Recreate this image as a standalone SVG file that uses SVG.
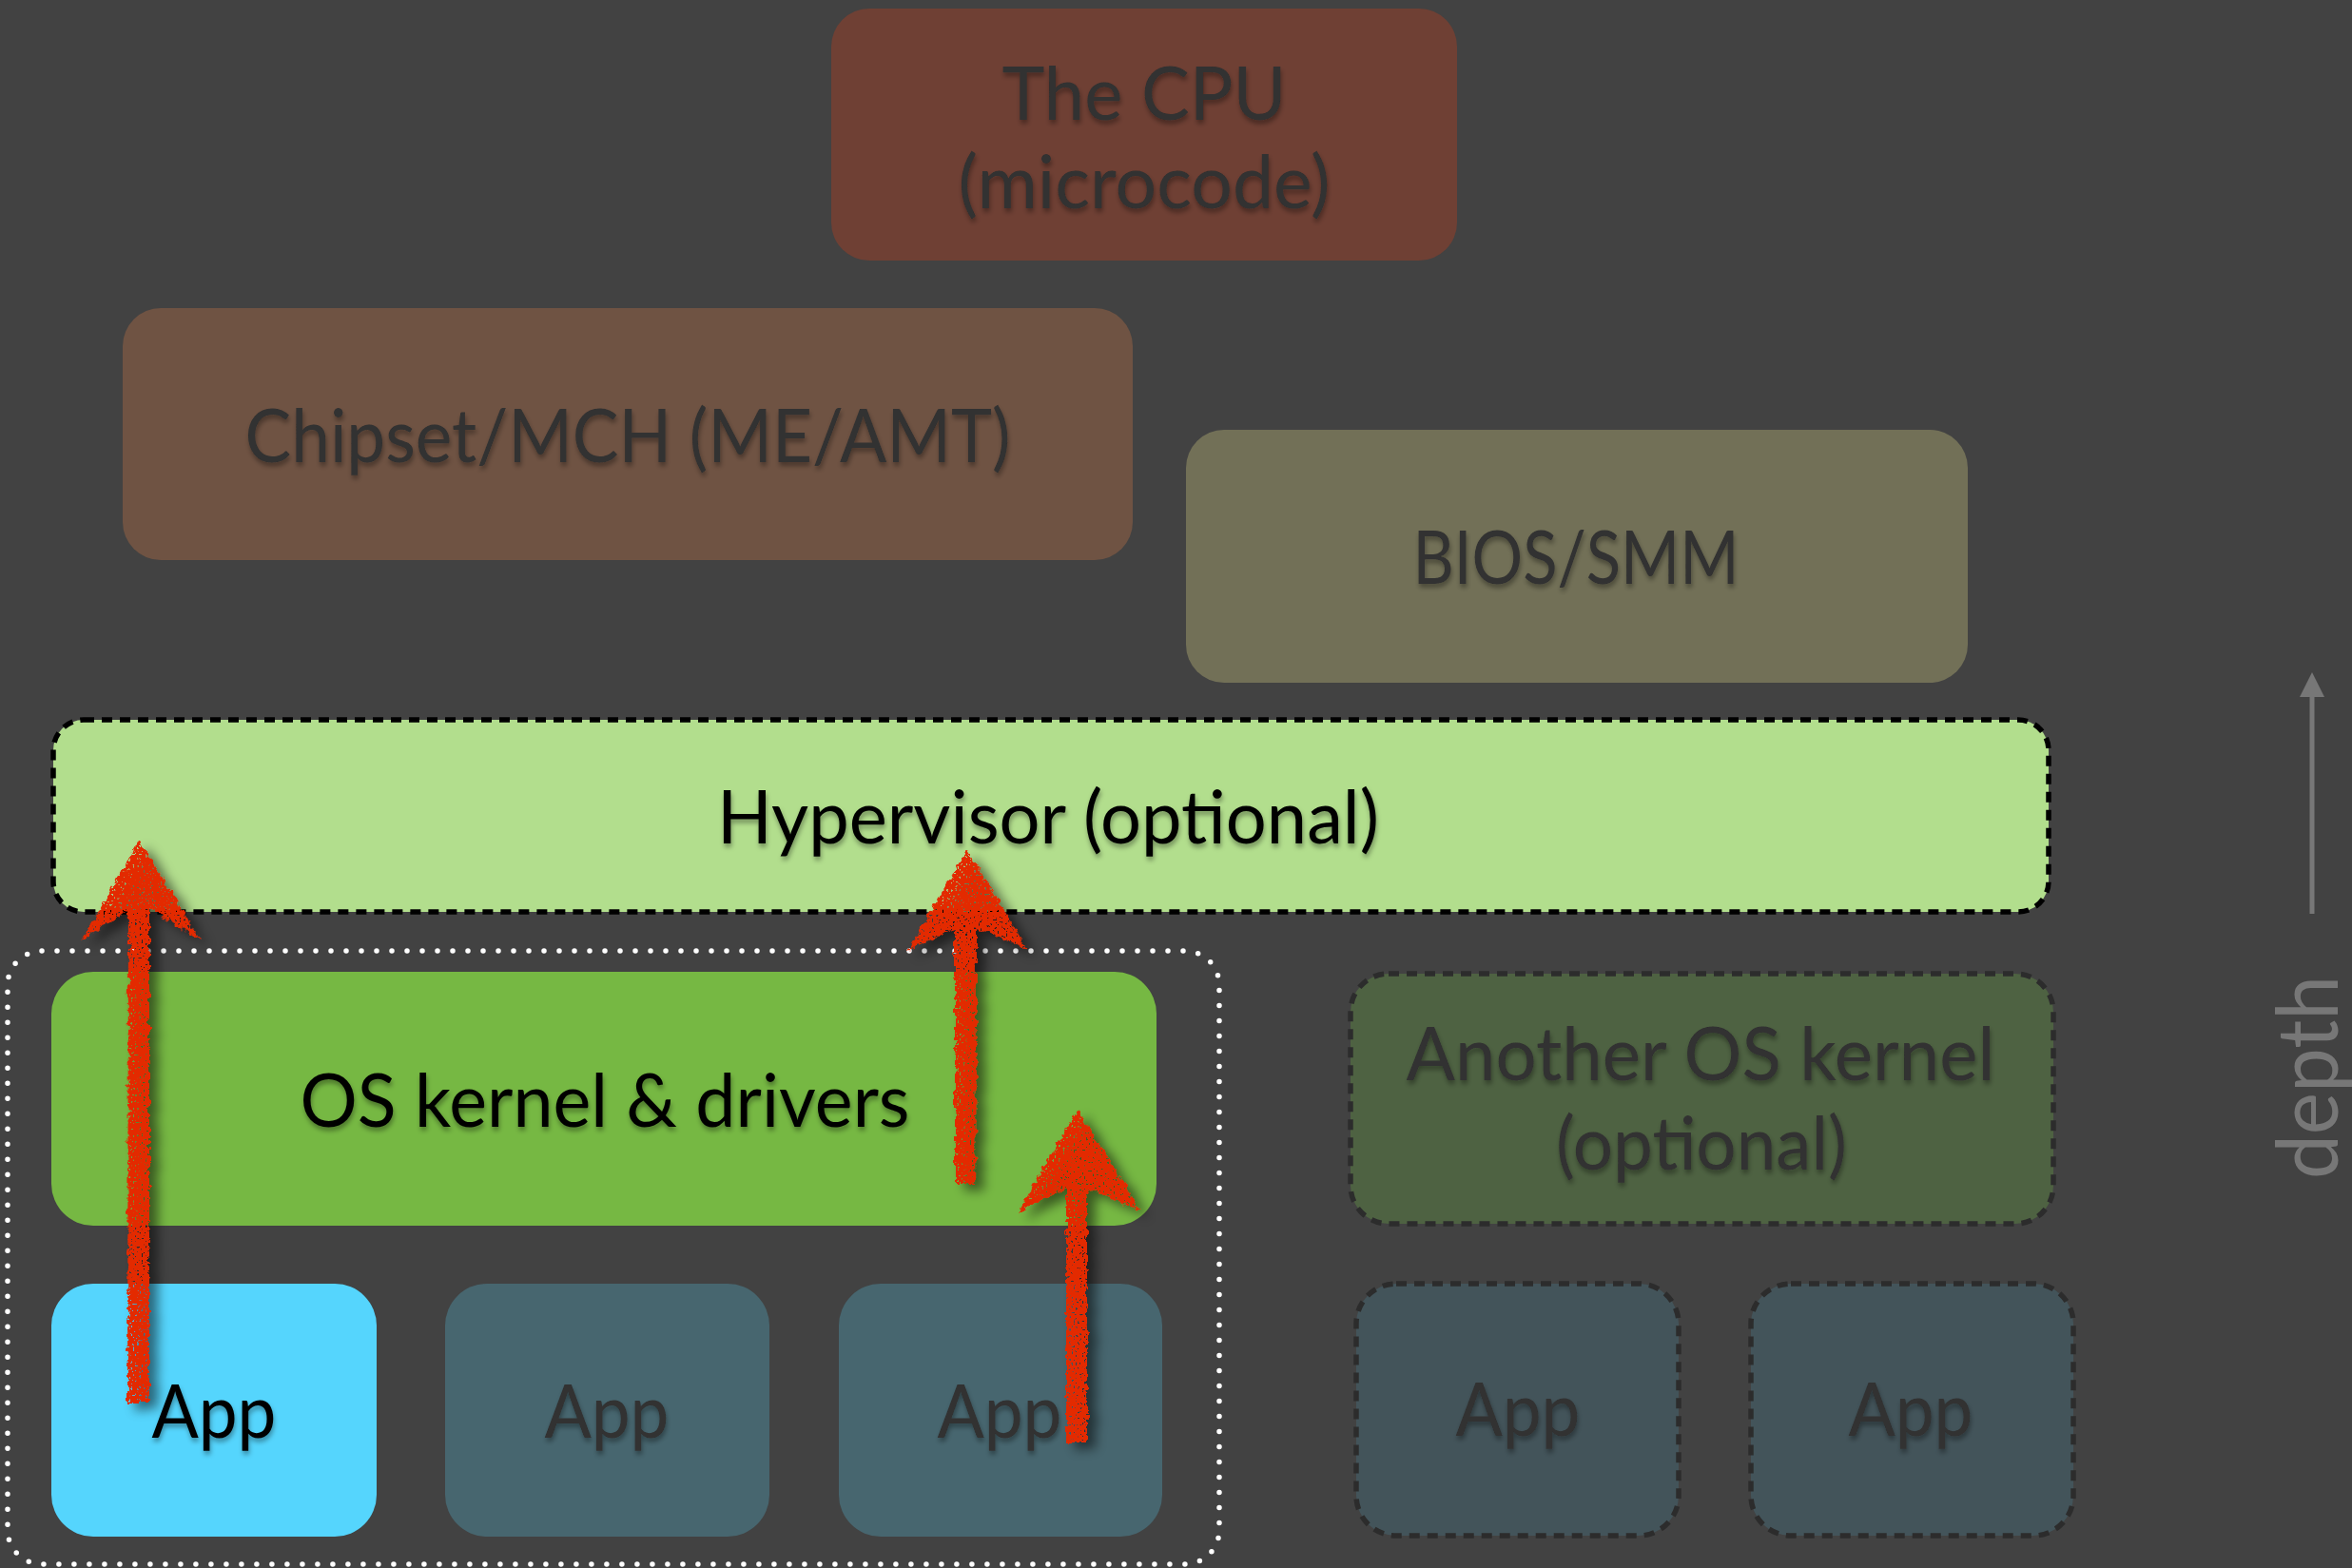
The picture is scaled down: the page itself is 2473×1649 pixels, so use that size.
<svg xmlns="http://www.w3.org/2000/svg" width="2473" height="1649" viewBox="0 0 2473 1649">
  <style>
    .lbl { font-family: Lato, "Open Sans", "Liberation Sans", sans-serif; font-size: 77px; text-anchor: middle; }
    .dim { fill: #303030; }
    .ink { fill: #000000; }
    .dash-black { fill: none; stroke: #000; stroke-width: 5.5; stroke-dasharray: 11 8; }
    .dash-dark { stroke: #2c2c2c; stroke-width: 5.5; stroke-dasharray: 11 8; }
    .arrow { fill: #e32a06; }
  </style>
  <defs>
    <!-- soft shadow under labels -->
    <filter id="txtShadow" x="-5%" y="-20%" width="110%" height="150%">
      <feGaussianBlur in="SourceAlpha" stdDeviation="2.5"/>
      <feOffset dx="1" dy="4" result="b"/>
      <feFlood flood-color="#000" flood-opacity="0.35"/>
      <feComposite in2="b" operator="in" result="s"/>
      <feMerge><feMergeNode in="s"/><feMergeNode in="SourceGraphic"/></feMerge>
    </filter>
    <!-- chalky hand-drawn stroke with a drop shadow -->
    <filter id="chalk" x="-60%" y="-10%" width="220%" height="125%">
      <feTurbulence type="fractalNoise" baseFrequency="0.14" numOctaves="2" seed="4" result="n"/>
      <feDisplacementMap in="SourceGraphic" in2="n" scale="9" xChannelSelector="R" yChannelSelector="G" result="rough"/>
      <feTurbulence type="fractalNoise" baseFrequency="0.45" numOctaves="1" seed="9" result="n2"/>
      <feColorMatrix in="n2" type="matrix" values="0 0 0 0 0  0 0 0 0 0  0 0 0 0 0  18 0 0 0 -11.3" result="holes"/>
      <feComposite in="rough" in2="holes" operator="out" result="chalky"/>
      <feGaussianBlur in="rough" stdDeviation="6"/>
      <feOffset dx="9" dy="7" result="sb"/>
      <feFlood flood-color="#000" flood-opacity="0.5"/>
      <feComposite in2="sb" operator="in" result="shadow"/>
      <feMerge><feMergeNode in="shadow"/><feMergeNode in="chalky"/></feMerge>
    </filter>
  </defs>

  <rect width="2473" height="1649" fill="#424242"/>

  <!-- dotted outline around the guest OS and its apps -->
  <rect id="guest-group" x="8" y="1000" width="1274" height="645" rx="36" fill="none" stroke="#ffffff" stroke-width="5.5" stroke-linecap="round" stroke-dasharray="0 16"/>

  <g id="nodes">
    <g id="cpu">
      <rect x="874" y="9" width="658" height="265" rx="40" fill="#6f4034"/>
      <g class="lbl dim" filter="url(#txtShadow)">
        <text x="1203" y="126" textLength="299" lengthAdjust="spacingAndGlyphs">The CPU</text>
        <text x="1203" y="219" textLength="391" lengthAdjust="spacingAndGlyphs">(microcode)</text>
      </g>
    </g>
    <g id="chipset">
      <rect x="129" y="324" width="1062" height="265" rx="40" fill="#6f5343"/>
      <text class="lbl dim" filter="url(#txtShadow)" x="660" y="486" textLength="805" lengthAdjust="spacingAndGlyphs">Chipset/MCH (ME/AMT)</text>
    </g>
    <g id="bios">
      <rect x="1247" y="452" width="822" height="266" rx="40" fill="#727057"/>
      <text class="lbl dim" filter="url(#txtShadow)" x="1657" y="614" textLength="343" lengthAdjust="spacingAndGlyphs">BIOS/SMM</text>
    </g>
    <g id="hypervisor">
      <rect x="56" y="757" width="2098" height="202" rx="32" fill="#b2de8d"/>
      <rect class="dash-black" x="56" y="757" width="2098" height="202" rx="32"/>
      <text class="lbl ink" filter="url(#txtShadow)" x="1102" y="887" textLength="696" lengthAdjust="spacingAndGlyphs">Hypervisor (optional)</text>
    </g>
    <g id="os-kernel">
      <rect x="54" y="1022" width="1162" height="267" rx="44" fill="#76b843"/>
      <text class="lbl ink" filter="url(#txtShadow)" x="636" y="1185" textLength="641" lengthAdjust="spacingAndGlyphs">OS kernel &amp; drivers</text>
    </g>
    <g id="another-os">
      <rect class="dash-dark" x="1420" y="1024" width="739" height="263" rx="40" fill="#4e6242"/>
      <g class="lbl dim" filter="url(#txtShadow)">
        <text x="1788" y="1136" textLength="619" lengthAdjust="spacingAndGlyphs">Another OS kernel</text>
        <text x="1789" y="1230" textLength="306" lengthAdjust="spacingAndGlyphs">(optional)</text>
      </g>
    </g>
    <g id="app-1">
      <rect x="54" y="1350" width="342" height="266" rx="44" fill="#55d5fd"/>
      <text class="lbl ink" filter="url(#txtShadow)" x="225" y="1512" textLength="131" lengthAdjust="spacingAndGlyphs">App</text>
    </g>
    <g id="app-2">
      <rect x="468" y="1350" width="341" height="266" rx="44" fill="#47666f"/>
      <text class="lbl dim" filter="url(#txtShadow)" x="638" y="1512" textLength="131" lengthAdjust="spacingAndGlyphs">App</text>
    </g>
    <g id="app-3">
      <rect x="882" y="1350" width="340" height="266" rx="44" fill="#47666f"/>
      <text class="lbl dim" filter="url(#txtShadow)" x="1051" y="1512" textLength="131" lengthAdjust="spacingAndGlyphs">App</text>
    </g>
    <g id="app-4">
      <rect class="dash-dark" x="1426" y="1350" width="339" height="265" rx="42" fill="#43545a"/>
      <text class="lbl dim" filter="url(#txtShadow)" x="1596" y="1510" textLength="131" lengthAdjust="spacingAndGlyphs">App</text>
    </g>
    <g id="app-5">
      <rect class="dash-dark" x="1841" y="1350" width="339" height="265" rx="42" fill="#43545a"/>
      <text class="lbl dim" filter="url(#txtShadow)" x="2009" y="1510" textLength="131" lengthAdjust="spacingAndGlyphs">App</text>
    </g>
  </g>

  <g id="connectors" filter="url(#chalk)">
    <!-- app 1 straight through to the hypervisor -->
    <path class="arrow" d="M146,884 Q176,930 210,989 Q182,970 157,955 L157,1475 L134,1475 L135,957 Q110,972 85,991 Q117,935 146,884 Z"/>
    <!-- kernel up to the hypervisor -->
    <path class="arrow" d="M1017,895 Q1047,942 1080,998 Q1053,986 1027,977 L1026,1245 L1004,1245 L1004,977 Q980,987 955,1000 Q986,945 1017,895 Z"/>
    <!-- app 3 up to the kernel -->
    <path class="arrow" d="M1133,1167 Q1164,1215 1199,1273 Q1171,1261 1143,1250 L1143,1517 L1121,1517 L1121,1250 Q1097,1261 1071,1275 Q1101,1219 1133,1167 Z"/>
  </g>

  <g id="depth-axis" fill="#777">
    <line x1="2431" y1="961" x2="2431" y2="728" stroke="#777" stroke-width="5"/>
    <path d="M2431,707 L2444,733 L2418,733 Z"/>
    <text transform="translate(2458,1133) rotate(-90)" x="0" y="0" font-family="Lato, 'Open Sans', sans-serif" font-size="90" text-anchor="middle" textLength="214" lengthAdjust="spacingAndGlyphs">depth</text>
  </g>
</svg>
